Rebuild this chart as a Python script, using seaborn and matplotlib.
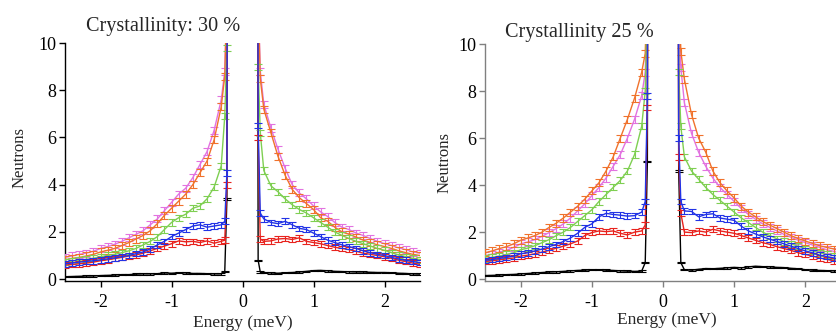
"""
Espectros de nêutrons (Energy vs Neutrons) para duas cristalinidades
"""

import numpy as np
import pandas as pd
import matplotlib
matplotlib.use('Agg')
import matplotlib.pyplot as plt
import seaborn as sns

# Energias (meV): lado negativo e positivo, com o pico elástico em +-0.2
energia_neg = [round(-2.5 + 0.1 * i, 2) for i in range(23)] + [-0.25, -0.22, -0.2]
energia_pos = [0.2, 0.22, 0.25] + [round(0.3 + 0.1 * i, 2) for i in range(23)]

series = ['black', 'red', 'blue', 'green', 'orange', 'magenta']
cores = ['#000000', '#e8231e', '#2233e6', '#7fcf52', '#f0722c', '#e273e0']

# ---- Cristalinidade 30 % ----
c30_neg = {
    'black': [0.10, 0.11, 0.12, 0.13, 0.13, 0.15, 0.16, 0.17, 0.19, 0.19, 0.21, 0.22, 0.22,
              0.23, 0.26, 0.25, 0.27, 0.26, 0.24, 0.24, 0.23, 0.22, 0.22, 0.33, 3.4, 40],
    'red': [0.60, 0.62, 0.65, 0.68, 0.72, 0.78, 0.82, 0.87, 0.92, 0.98, 1.02, 1.10, 1.20,
            1.30, 1.40, 1.50, 1.62, 1.58, 1.60, 1.55, 1.62, 1.52, 1.60, 1.65, 4.0, 40],
    'blue': [0.65, 0.68, 0.72, 0.75, 0.78, 0.82, 0.86, 0.90, 0.95, 1.00, 1.08, 1.15, 1.28,
             1.45, 1.60, 1.80, 1.95, 2.10, 2.25, 2.30, 2.20, 2.25, 2.30, 2.45, 4.5, 40],
    'green': [0.72, 0.76, 0.80, 0.84, 0.88, 0.95, 1.00, 1.05, 1.12, 1.20, 1.30, 1.45, 1.60,
              1.80, 2.10, 2.40, 2.60, 2.75, 3.00, 3.10, 3.40, 3.90, 4.80, 6.9, 9.8, 40],
    'orange': [0.82, 0.88, 0.92, 0.98, 1.05, 1.15, 1.22, 1.30, 1.42, 1.55, 1.70, 1.85, 2.05,
               2.35, 2.70, 3.00, 3.30, 3.60, 4.00, 4.50, 5.00, 5.90, 7.30, 8.6, 12, 40],
    'magenta': [0.92, 0.98, 1.05, 1.10, 1.18, 1.30, 1.38, 1.48, 1.60, 1.75, 1.90, 2.05, 2.30,
                2.55, 2.90, 3.25, 3.60, 3.85, 4.30, 4.85, 5.40, 6.30, 7.60, 8.8, 12, 40],
}
c30_pos = {
    'black': [40, 0.8, 0.30, 0.28, 0.26, 0.25, 0.27, 0.28, 0.30, 0.33, 0.36, 0.37, 0.35, 0.33,
              0.32, 0.31, 0.30, 0.30, 0.29, 0.28, 0.28, 0.27, 0.25, 0.24, 0.22, 0.21],
    'red': [40, 6.0, 1.70, 1.60, 1.62, 1.70, 1.72, 1.68, 1.75, 1.60, 1.55, 1.50, 1.42, 1.35,
            1.30, 1.25, 1.18, 1.10, 1.05, 1.00, 0.95, 0.88, 0.80, 0.74, 0.68, 0.62],
    'blue': [40, 6.5, 2.80, 2.55, 2.40, 2.35, 2.45, 2.30, 2.15, 2.10, 1.95, 1.80, 1.65, 1.55,
             1.45, 1.38, 1.30, 1.20, 1.12, 1.05, 1.00, 0.92, 0.85, 0.80, 0.74, 0.70],
    'green': [40, 9.0, 6.20, 4.60, 3.95, 3.70, 3.40, 3.15, 2.95, 2.80, 2.60, 2.40, 2.20, 2.00,
              1.85, 1.72, 1.60, 1.50, 1.40, 1.30, 1.22, 1.12, 1.02, 0.95, 0.88, 0.82],
    'orange': [40, 12, 8.50, 7.20, 6.20, 5.20, 4.40, 3.80, 3.45, 3.20, 2.95, 2.60, 2.45, 2.20,
               2.00, 1.90, 1.78, 1.65, 1.55, 1.45, 1.38, 1.30, 1.20, 1.12, 1.05, 1.00],
    'magenta': [40, 12, 8.80, 7.40, 6.40, 5.50, 4.70, 4.00, 3.65, 3.40, 3.10, 2.85, 2.65, 2.40,
                2.20, 2.10, 1.95, 1.85, 1.72, 1.60, 1.50, 1.42, 1.32, 1.25, 1.15, 1.10],
}

# ---- Cristalinidade 25 % ----
c25_neg = {
    'black': [0.15, 0.16, 0.17, 0.19, 0.20, 0.22, 0.24, 0.26, 0.28, 0.30, 0.31, 0.33, 0.35,
              0.37, 0.38, 0.40, 0.40, 0.38, 0.37, 0.35, 0.34, 0.33, 0.34, 0.70, 5.0, 40],
    'red': [0.75, 0.78, 0.82, 0.86, 0.90, 0.98, 1.02, 1.08, 1.15, 1.22, 1.32, 1.40, 1.50,
            1.62, 1.85, 1.98, 2.05, 2.02, 2.05, 1.95, 1.88, 2.00, 2.05, 2.30, 7.3, 40],
    'blue': [0.80, 0.83, 0.88, 0.92, 0.98, 1.08, 1.12, 1.20, 1.28, 1.38, 1.48, 1.60, 1.75,
             1.95, 2.20, 2.35, 2.65, 2.80, 2.75, 2.72, 2.68, 2.70, 2.85, 3.30, 7.8, 40],
    'green': [0.88, 0.93, 0.98, 1.05, 1.12, 1.25, 1.32, 1.42, 1.55, 1.68, 1.85, 2.00, 2.20,
              2.45, 2.70, 2.95, 3.30, 3.60, 3.90, 4.20, 4.60, 5.30, 6.50, 8.0, 12, 40],
    'orange': [1.12, 1.20, 1.30, 1.38, 1.50, 1.65, 1.75, 1.85, 2.00, 2.20, 2.38, 2.60, 2.85,
               3.10, 3.40, 3.75, 4.10, 4.60, 5.20, 6.00, 6.80, 7.70, 8.80, 9.6, 13, 40],
    'magenta': [1.00, 1.06, 1.15, 1.22, 1.35, 1.50, 1.58, 1.68, 1.82, 1.98, 2.15, 2.35, 2.60,
                2.90, 3.20, 3.55, 3.90, 4.30, 4.80, 5.30, 6.00, 6.80, 7.80, 8.8, 12, 40],
}
c25_pos = {
    'black': [40, 4.6, 0.70, 0.40, 0.38, 0.42, 0.45, 0.44, 0.46, 0.48, 0.50, 0.48, 0.52, 0.55,
              0.53, 0.52, 0.50, 0.49, 0.46, 0.44, 0.40, 0.38, 0.37, 0.36, 0.35, 0.34],
    'red': [40, 5.2, 2.80, 2.00, 1.98, 2.05, 2.00, 2.12, 2.05, 2.00, 1.95, 1.85, 1.75, 1.65,
            1.55, 1.48, 1.38, 1.30, 1.22, 1.12, 1.05, 0.98, 0.90, 0.84, 0.78, 0.74],
    'blue': [40, 6.0, 3.30, 2.90, 2.88, 2.65, 2.75, 2.78, 2.60, 2.55, 2.50, 2.25, 2.05, 1.92,
             1.80, 1.70, 1.60, 1.50, 1.40, 1.30, 1.20, 1.12, 1.02, 0.96, 0.90, 0.85],
    'green': [40, 8.8, 6.50, 5.20, 4.60, 4.25, 3.90, 3.60, 3.35, 3.10, 2.85, 2.60, 2.40, 2.20,
              2.00, 1.85, 1.72, 1.60, 1.50, 1.40, 1.30, 1.20, 1.12, 1.05, 1.00, 0.95],
    'orange': [40, 13, 9.70, 8.50, 7.00, 6.00, 5.40, 4.60, 4.10, 3.75, 3.45, 3.10, 2.85, 2.65,
               2.45, 2.30, 2.15, 2.00, 1.85, 1.72, 1.62, 1.52, 1.42, 1.35, 1.28, 1.20],
    'magenta': [40, 11, 9.00, 7.50, 6.20, 5.40, 4.80, 4.30, 3.90, 3.60, 3.30, 3.00, 2.75, 2.55,
                2.35, 2.20, 2.05, 1.90, 1.78, 1.65, 1.55, 1.45, 1.35, 1.25, 1.18, 1.10],
}

# barras de erro (constantes por série)
erros = {'black': 0.03, 'red': 0.12, 'blue': 0.12, 'green': 0.13, 'orange': 0.15, 'magenta': 0.15}

ordem = ['black', 'magenta', 'orange', 'green', 'red', 'blue']


def montar_df(neg, pos):
    linhas = []
    for s in series:
        for lado, e_arr, v_arr in (('neg', energia_neg, neg[s]), ('pos', energia_pos, pos[s])):
            for e, v in zip(e_arr, v_arr):
                linhas.append({'serie': s, 'lado': lado, 'energia': e, 'neutrons': v})
    return pd.DataFrame(linhas)


sns.set_theme(style='ticks')
plt.rcParams['font.family'] = ['Liberation Serif', 'DejaVu Serif']
plt.rcParams['axes.linewidth'] = 1.0

fig = plt.figure(figsize=(8.37, 3.31), dpi=100)
ax1 = fig.add_axes([0.0777, 0.151, 0.4241, 0.719])
ax2 = fig.add_axes([0.5795, 0.151, 0.4253, 0.716])

paleta = dict(zip(series, cores))

for ax, neg, pos, cor_eixo in ((ax1, c30_neg, c30_pos, 'black'),
                               (ax2, c25_neg, c25_pos, '#808080')):
    df = montar_df(neg, pos)
    for s in ordem:
        for lado in ('neg', 'pos'):
            d = df[(df.serie == s) & (df.lado == lado)]
            sns.lineplot(data=d, x='energia', y='neutrons', color=paleta[s], lw=1.0,
                         estimator=None, sort=False, ax=ax, legend=False, zorder=3)
            ax.errorbar(d.energia, d.neutrons, yerr=erros[s], fmt='none', ecolor=paleta[s],
                        elinewidth=0.8, capsize=2.6, capthick=0.8, zorder=3)

    ax.set_xlim(-2.5, 2.5)
    ax.set_ylim(-0.08, 10)
    ax.set_xticks([-2, -1, 0, 1, 2])
    ax.set_yticks([0, 2, 4, 6, 8, 10])
    ax.set_xticklabels(['-2', '-1', '0', '1', '2'])
    sns.despine(ax=ax)
    for sp in ('left', 'bottom'):
        ax.spines[sp].set_color(cor_eixo)
    ax.tick_params(axis='both', direction='out', length=4, width=1, color=cor_eixo,
                   labelsize=13, labelcolor='black')
    ax.tick_params(axis='x', pad=5.5)
    ax.tick_params(axis='y', pad=2)
    ax.set_xlabel('Energy (meV)', fontsize=12.5)
    ax.set_ylabel('Neutrons', fontsize=12)
    ax.set_facecolor('white')

ax1.xaxis.set_label_coords(0.5, -0.143)
ax1.yaxis.set_label_coords(-0.107, 0.52)
ax2.xaxis.set_label_coords(0.511, -0.131)
ax2.yaxis.set_label_coords(-0.09, 0.50)

fig.text(163 / 837, 1 - 26 / 331, 'Crystallinity: 30 %', ha='center', va='center', fontsize=14.6)
fig.text(579 / 837, 1 - 32 / 331, 'Crystallinity 25 %', ha='center', va='center', fontsize=14.6)

fig.savefig('out.png', dpi=100, facecolor='white')
